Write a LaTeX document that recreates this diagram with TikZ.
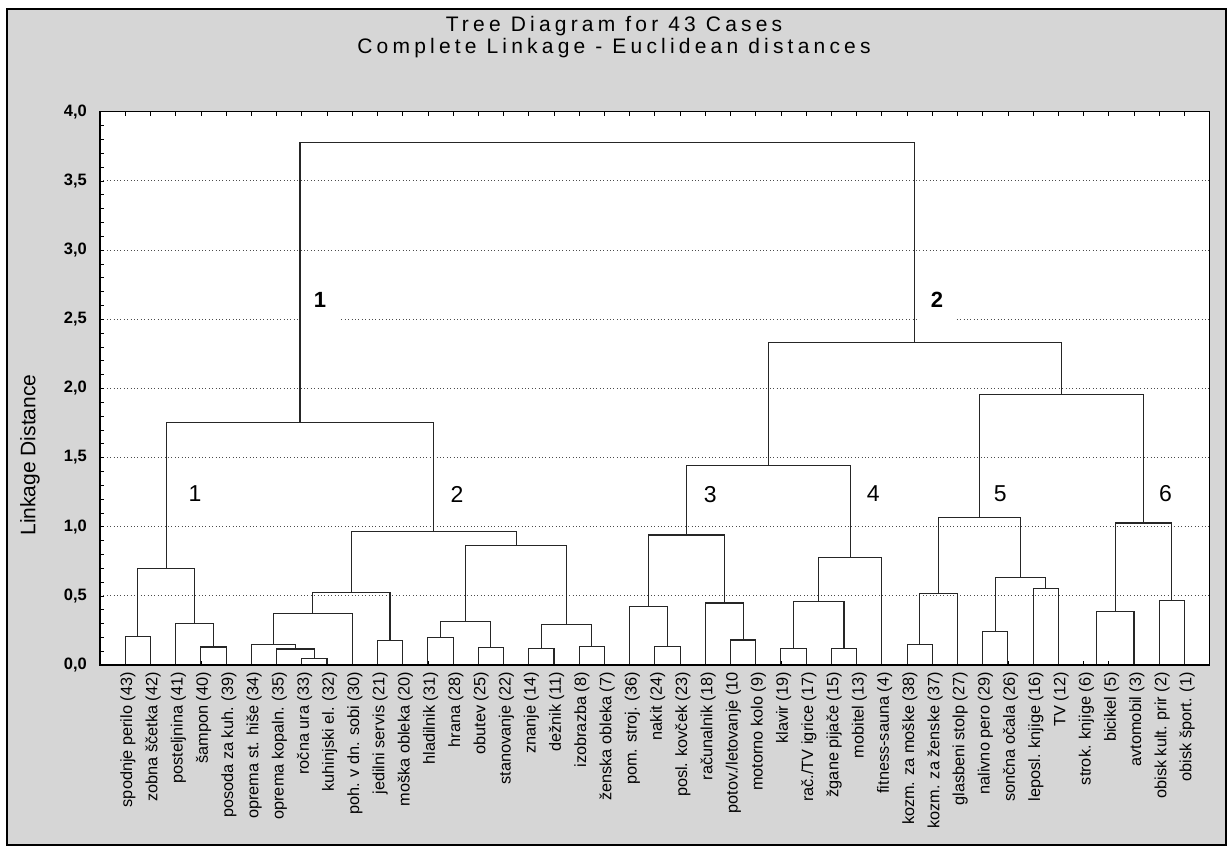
\documentclass[tikz,border=0pt]{standalone}
\usepackage{fontspec}
\setmainfont{Liberation Sans}
\begin{document}
\begin{tikzpicture}[x=1pt,y=1pt,
  tree/.style={line width=1.1pt, black!85, line cap=rect},
  gridline/.style={line width=0.9pt, black!70, dash pattern=on 1pt off 2.4pt},
  tick/.style={line width=0.7pt, black},
  leaf/.style={rotate=90, anchor=base east, inner sep=0pt, font=\fontsize{16.3}{16}\selectfont},
  ylab/.style={anchor=east, inner sep=0pt, font=\bfseries\fontsize{16.5}{16}\selectfont},
  grp/.style={inner sep=0pt, font=\fontsize{23}{23}\selectfont},
  topbox/.style={inner sep=0pt, fill=white, minimum width=38pt, minimum height=44pt},
  toptext/.style={inner sep=0pt, font=\bfseries\fontsize{22}{22}\selectfont},
  ttl/.style={inner sep=0pt, font=\fontsize{21}{21}\selectfont\addfontfeature{LetterSpace=20}}]
\useasboundingbox (0,0) rectangle (1229,847);
\fill[white] (0,0) rectangle (1229,847);
% grey panel and its frame
\fill[black!16] (6.5,2) rectangle (1225.5,837.5);
\draw[line width=2pt] (6.5,2) rectangle (1225.5,837.5);
% titles
\node[ttl] (title1) at (614,821) {Tree Diagram for 43 Cases};
\node[ttl] (title2) at (614,799) {Complete Linkage - Euclidean distances};
% axis title
\node[rotate=90, inner sep=0pt, font=\fontsize{21}{21}\selectfont] (ytitle) at (30,392) {Linkage Distance};
% plot area
\fill[white] (100,182) rectangle (1209.7,735.2);
\begin{scope}[shift={(100,182)}, x=25.22pt, y=138.3pt]
  % grid lines
  \foreach \v in {0.5,1,...,3.5} \draw[gridline] (0,\v) -- (44,\v);
  % ticks
  \foreach \k in {1,...,43} {
    \draw[tick] (\k,0) -- ++(0,4pt);
    \draw[tick] (\k,4) -- ++(0,-4pt);
  }
  \foreach \i in {1,...,39} \draw[tick] (0,\i/10) -- ++(4pt,0);
  % y labels
  \foreach \a/\b in {0/0,0/5,1/0,1/5,2/0,2/5,3/0,3/5,4/0}
    \node[ylab] (y\a\b) at ([xshift=-13pt]0,{\a+\b/10}) {\a,\b};
  % top-level group labels on white patches
  \node[topbox] (top1) at (8.72,2.64) {};
  \node[topbox] (top2) at (33.19,2.64) {};
  \node[toptext] (top1t) at (top1) {1};
  \node[toptext] (top2t) at (top2) {2};
  % leaves
  \foreach \k in {1,...,43} \coordinate (L\k) at (\k,0);
  % merge points
  \coordinate (a1) at (1.5,0.207);
  \coordinate (a2) at (4.5,0.13);
  \coordinate (a3) at (3.75,0.30);
  \coordinate (a4) at (2.625,0.70);
  \coordinate (b1) at (8.5,0.046);
  \coordinate (b2) at (7.75,0.116);
  \coordinate (b3) at (6.875,0.15);
  \coordinate (b4) at (8.4375,0.37);
  \coordinate (b5) at (11.5,0.176);
  \coordinate (b6) at (9.96875,0.525);
  \coordinate (c1) at (13.5,0.197);
  \coordinate (c2) at (15.5,0.128);
  \coordinate (c3) at (14.5,0.313);
  \coordinate (c4) at (17.5,0.118);
  \coordinate (c5) at (19.5,0.137);
  \coordinate (c6) at (18.5,0.294);
  \coordinate (c7) at (16.5,0.863);
  \coordinate (c8) at (13.234375,0.964);
  \coordinate (A) at (7.9296875,1.755);
  \coordinate (d1) at (22.5,0.137);
  \coordinate (d2) at (21.75,0.424);
  \coordinate (d3) at (25.5,0.181);
  \coordinate (d4) at (24.75,0.448);
  \coordinate (d5) at (23.25,0.94);
  \coordinate (e1) at (27.5,0.121);
  \coordinate (e2) at (29.5,0.121);
  \coordinate (e3) at (28.5,0.458);
  \coordinate (e4) at (29.75,0.779);
  \coordinate (f) at (26.5,1.44);
  \coordinate (g1) at (32.5,0.145);
  \coordinate (g2) at (33.25,0.516);
  \coordinate (g3) at (35.5,0.241);
  \coordinate (g4) at (37.5,0.555);
  \coordinate (g5) at (36.5,0.631);
  \coordinate (g6) at (34.875,1.068);
  \coordinate (h1) at (39.5,0);
  \coordinate (h2) at (40.25,0.385);
  \coordinate (h3) at (42.5,0.468);
  \coordinate (h4) at (41.375,1.027);
  \coordinate (i1) at (38.125,1.954);
  \coordinate (B) at (32.3125,2.335);
  \coordinate (R) at (20.12109375,3.78);
  % links
  \foreach \p/\m/\q in {L1/a1/L2, L4/a2/L5, L3/a3/a2, a1/a4/a3,
      L8/b1/L9, L7/b2/b1, L6/b3/b2, b3/b4/L10, L11/b5/L12, b4/b6/b5,
      L13/c1/L14, L15/c2/L16, c1/c3/c2, L17/c4/L18, L19/c5/L20, c4/c6/c5,
      c3/c7/c6, b6/c8/c7, a4/A/c8,
      L22/d1/L23, L21/d2/d1, L25/d3/L26, L24/d4/d3, d2/d5/d4,
      L27/e1/L28, L29/e2/L30, e1/e3/e2, e3/e4/L31, d5/f/e4,
      L32/g1/L33, g1/g2/L34, L35/g3/L36, L37/g4/L38, g3/g5/g4, g2/g6/g5,
      L39/h1/L40, h1/h2/L41, L42/h3/L43, h2/h4/h3, g6/i1/h4,
      f/B/i1, A/R/B}
    \draw[tree] (\p) |- (\m) -| (\q);
  % cluster numbers
  \node[grp] (n1) at (3.77,1.236) {1};
  \node[grp] (n2) at (14.16,1.236) {2};
  \node[grp] (n3) at (24.2,1.23) {3};
  \node[grp] (n4) at (30.66,1.24) {4};
  \node[grp] (n5) at (35.7,1.24) {5};
  \node[grp] (n6) at (42.25,1.24) {6};
  % plot frame
  \draw[line width=1.2pt] (0,0) rectangle (44,4);
  % case names
  \foreach \k/\t in {1/{spodnje perilo (43)}, 2/{zobna ščetka (42)}, 3/{posteljnina (41)},
      4/{šampon (40)}, 5/{posoda za kuh. (39)}, 6/{oprema st. hiše (34)},
      7/{oprema kopaln. (35)}, 8/{ročna ura (33)}, 9/{kuhinjski el. (32)},
      10/{poh. v dn. sobi (30)}, 11/{jedilni servis (21)}, 12/{moška obleka (20)},
      13/{hladilnik (31)}, 14/{hrana (28)}, 15/{obutev (25)}, 16/{stanovanje (22)},
      17/{znanje (14)}, 18/{dežnik (11)}, 19/{izobrazba (8)}, 20/{ženska obleka (7)},
      21/{pom. stroj. (36)}, 22/{nakit (24)}, 23/{posl. kovček (23)},
      24/{računalnik (18)}, 25/{potov./letovanje (10}, 26/{motorno kolo (9)},
      27/{klavir (19)}, 28/{rač./TV igrice (17)}, 29/{žgane pijače (15)},
      30/{mobitel (13)}, 31/{fitness-sauna (4)}, 32/{kozm. za moške (38)},
      33/{kozm. za ženske (37)}, 34/{glasbeni stolp (27)}, 35/{nalivno pero (29)},
      36/{sončna očala (26)}, 37/{leposl. knjige (16)}, 38/{TV (12)},
      39/{strok. knjige (6)}, 40/{bicikel (5)}, 41/{avtomobil (3)},
      42/{obisk kult. prir (2)}, 43/{obisk šport. (1)}}
    \node[leaf] (t\k) at ([shift={(7pt,-7pt)}]\k,0) {\t};
\end{scope}
\end{tikzpicture}
\end{document}
